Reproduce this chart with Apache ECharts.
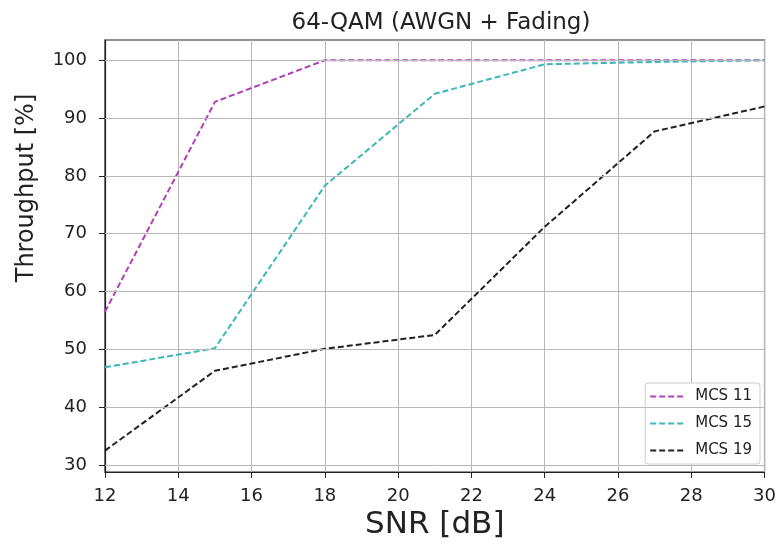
<!DOCTYPE html>
<html>
<head>
<meta charset="utf-8">
<script src="https://cdn.jsdelivr.net/npm/echarts@6/dist/echarts.min.js"></script>
<style>
html,body{margin:0;padding:0;background:#fff;}
#chart{width:779px;height:548px;}
</style>
</head>
<body>
<div id="chart"></div>
<script>
const snr = [12, 15, 18, 21, 24, 27, 30];
const mcs11 = [56.5, 92.8, 100, 100, 100, 100, 100];
const mcs15 = [46.9, 50.2, 78.3, 94.2, 99.3, 99.7, 100];
const mcs19 = [32.5, 46.3, 50.1, 52.5, 71.2, 87.7, 92.0];
const yTicks = [30, 40, 50, 60, 70, 80, 90, 100];
const seriesNames = ['MCS 11', 'MCS 15', 'MCS 19'];

const FONT = 'DejaVu Sans';
const chart = echarts.init(document.getElementById('chart'), null, {renderer: 'canvas'});

function pairs(ys) { return snr.map((x, i) => [x, ys[i]]); }

const colors = ['#b040b8', '#3cb8b8', '#222222'];
const dataSets = [mcs11, mcs15, mcs19];

const lineSeries = dataSets.map((d, i) => ({
  name: seriesNames[i],
  type: 'line',
  data: pairs(d),
  symbol: 'none',
  showSymbol: false,
  z: 3,
  color: colors[i],
  lineStyle: {color: colors[i], width: 2, type: [6, 3]},
  animation: false
}));

chart.setOption({
  animation: false,
  title: {
    text: '64-QAM (AWGN + Fading)',
    left: 436,
    textAlign: 'center',
    top: 7,
    textStyle: {fontFamily: FONT, fontSize: 23, fontWeight: 'normal', color: '#222'}
  },
  grid: {left: 105, right: 11, top: 40, bottom: 76, show: true, borderColor: '#222', borderWidth: 1.2, backgroundColor: 'transparent'},
  legend: {
    orient: 'vertical',
    right: 19,
    bottom: 84,
    data: seriesNames,
    itemWidth: 34,
    itemHeight: 14,
    itemGap: 12,
    padding: [6, 8, 6, 4],
    borderColor: '#cccccc',
    borderWidth: 1,
    borderRadius: 3,
    backgroundColor: '#fff',
    itemStyle: {opacity: 0},
    textStyle: {fontFamily: FONT, fontSize: 15, color: '#222', padding: [0, 0, 0, 6]}
  },
  xAxis: {
    type: 'value',
    min: 12, max: 30, interval: 2,
    name: 'SNR [dB]',
    nameLocation: 'middle',
    nameGap: 37,
    nameTextStyle: {fontFamily: FONT, fontSize: 31, color: '#222'},
    axisLine: {show: true, lineStyle: {color: '#222', width: 1.2}},
    axisTick: {show: true, inside: false, length: 6, lineStyle: {color: '#222'}},
    axisLabel: {fontFamily: FONT, fontSize: 18, color: '#222', margin: 15},
    splitLine: {show: true, lineStyle: {color: '#b8b8b8', width: 1}}
  },
  yAxis: {
    type: 'value',
    min: 28.8, max: 103.5,
    axisLine: {show: true, lineStyle: {color: '#222', width: 1.2}},
    axisTick: {show: true, inside: false, length: 6, customValues: yTicks, lineStyle: {color: '#222'}},
    axisLabel: {fontFamily: FONT, fontSize: 18, color: '#222', margin: 18, customValues: yTicks},
    splitLine: {show: false}
  },
  graphic: [{
    type: 'text',
    x: 27, y: 188,
    rotation: Math.PI / 2,
    style: {text: 'Throughput [%]', fontFamily: FONT, fontSize: 24, fill: '#222', align: 'center', verticalAlign: 'middle'}
  }],
  series: [{
    type: 'line',
    data: [],
    z: 1,
    silent: true,
    markLine: {
      silent: true,
      symbol: 'none',
      animation: false,
      label: {show: false},
      lineStyle: {color: '#b8b8b8', width: 1, type: 'solid'},
      data: yTicks.map(v => ({yAxis: v}))
    }
  }].concat(lineSeries)
});
</script>
</body>
</html>
